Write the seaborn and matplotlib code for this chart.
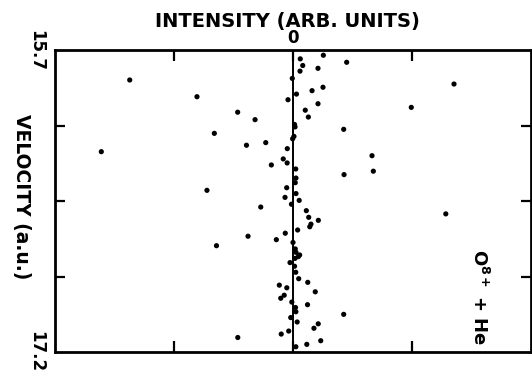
import numpy as np
import pandas as pd
import seaborn as sns
import matplotlib.pyplot as plt

# intensity (arb. units) and velocity (a.u.)
intensity = [
    -1.372, -0.807, -0.465, -0.319, -0.661, -0.391, -1.611, -0.723, -0.271,
    -0.378, -0.643, -0.464, -0.229, 0.451, 1.353, 0.994, 0.426, 0.664,
    0.675, 0.429, 1.284, 0.426,
    0.255, 0.061, 0.082, 0.210, 0.059, -0.006, 0.252, 0.160, 0.029,
    -0.042, 0.210, 0.103, 0.129, 0.013, 0.017, 0.008, -0.003, -0.048,
    -0.082, -0.182, -0.049, 0.023, 0.025, 0.019, -0.053, 0.025, -0.067,
    0.052, -0.013, 0.112, 0.132, 0.213, 0.151, 0.141, 0.039, -0.065,
    -0.140, 0.000, 0.019, 0.025, 0.045, 0.056, 0.017, -0.025, 0.013,
    0.023, 0.048, 0.124, -0.115, -0.052, 0.187, -0.074, -0.103, -0.010,
    0.122, 0.021, 0.024, -0.019, 0.035, 0.212, 0.176, -0.036, -0.099,
    0.233, 0.116, 0.024,
]
velocity = [
    15.849, 15.932, 16.009, 16.046, 16.114, 16.173, 16.205, 16.397, 16.480,
    16.625, 16.672, 17.128, 16.160, 15.761, 15.869, 15.985, 16.094, 16.225,
    16.302, 16.319, 16.514, 17.013,
    15.726, 15.744, 15.777, 15.791, 15.805, 15.841, 15.885, 15.902, 15.919,
    15.947, 15.967, 15.999, 16.033, 16.070, 16.082, 16.129, 16.141, 16.190,
    16.241, 16.271, 16.261, 16.291, 16.336, 16.359, 16.384, 16.413, 16.432,
    16.447, 16.466, 16.498, 16.531, 16.546, 16.565, 16.578, 16.594, 16.610,
    16.642, 16.656, 16.688, 16.705, 16.726, 16.718, 16.735, 16.756, 16.774,
    16.804, 16.836, 16.854, 16.868, 16.881, 16.901, 16.918, 16.933, 16.952,
    16.965, 16.979, 17.000, 17.029, 17.051, 17.060, 17.082, 17.096, 17.111,
    17.144, 17.162, 17.174,
]

x_ticks = [-1, 0, 1]
x_tick_labels = ['', '0', '']
v_min, v_max = 15.7, 17.2
v_minor = [16.075, 16.45, 16.825]

df = pd.DataFrame({'intensity': intensity, 'velocity': velocity})

sns.set_style('white')
plt.rcParams['font.family'] = ['DejaVu Sans']
plt.rcParams['text.color'] = 'black'
plt.rcParams['xtick.color'] = 'black'
plt.rcParams['ytick.color'] = 'black'

fig = plt.figure(figsize=(5.32, 3.70), dpi=100)
ax = fig.add_axes([55 / 532, 18 / 370, 476 / 532, 302 / 370])

sns.scatterplot(x='intensity', y='velocity', data=df, ax=ax,
                color='black', s=14, edgecolor='none', linewidth=0)
ax.axvline(0, color='black', lw=1.4, zorder=3)

ax.set_xlim(-2, 2)
ax.set_ylim(v_max, v_min)

for side in ['top', 'bottom', 'left', 'right']:
    ax.spines[side].set_color('black')
    ax.spines[side].set_linewidth(2)

ax.set_xticks(x_ticks)
ax.set_xticklabels(x_tick_labels, fontsize=12, fontweight='bold')
ax.tick_params(axis='x', which='major', top=True, bottom=True, direction='in',
               length=8, width=1.6, labeltop=True, labelbottom=False, pad=2,
               labelcolor='black')

ax.set_yticks([v_min, v_max])
ax.set_yticklabels([str(v_min), str(v_max)], rotation=-90, va='center',
                   fontsize=12, fontweight='bold')
ax.set_yticks(v_minor, minor=True)
ax.tick_params(axis='y', which='major', length=0, pad=7, labelcolor='black')
ax.tick_params(axis='y', which='minor', left=True, right=True, direction='in',
               length=7, width=1.6)

ax.set_xlabel('')
ax.set_ylabel('')

fig.text(287.5 / 532, (370 - 21) / 370, 'INTENSITY (ARB. UNITS)', fontsize=14,
         fontweight='bold', ha='center', va='center')
fig.text(21 / 532, (370 - 197) / 370, 'VELOCITY (a.u.)', fontsize=13.5,
         fontweight='bold', rotation=-90, ha='center', va='center')
fig.text(479 / 532, (370 - 297) / 370, 'O$^{\\mathbf{8+}}$ + He', fontsize=13,
         fontweight='bold', rotation=-90, ha='center', va='center')

fig.savefig('out.png', dpi=100)
